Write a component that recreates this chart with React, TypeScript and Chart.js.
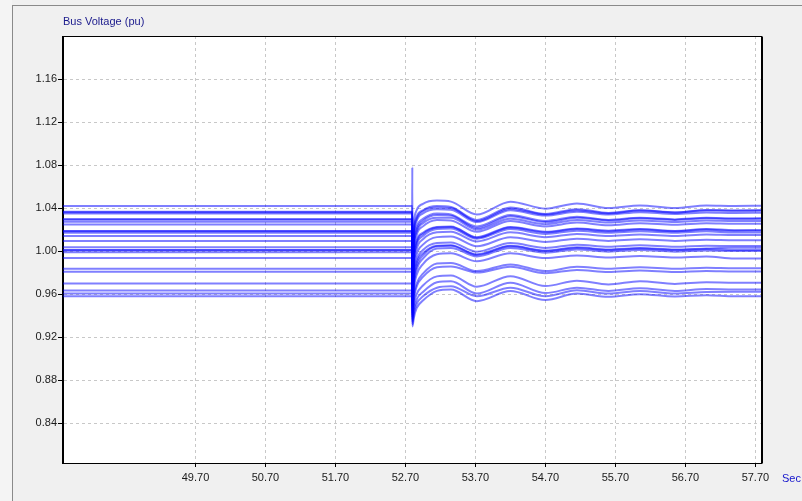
import { useEffect, useRef } from "react";
import { Chart, registerables } from "chart.js";

Chart.register(...registerables);

// Sample instants (s) of the simulated bus voltage record
const TIME = [47.78, 52.795, 52.798, 52.8, 52.82, 52.86, 52.95, 53.15, 53.35, 53.72, 54.2, 54.7, 55.15, 55.6, 56.05, 56.55, 57.0, 57.4, 57.78];

// Bus voltages (pu) at the instants above
const BUS_01 = [1.042, 1.042, 1.042, 1.0, 1.026, 1.038, 1.044, 1.047, 1.046, 1.034, 1.046, 1.0395, 1.0443, 1.04, 1.0425, 1.04, 1.0425, 1.042, 1.0422];
const BUS_02 = [1.0366, 1.0366, 1.0366, 0.995, 1.02, 1.032, 1.038, 1.042, 1.041, 1.029, 1.0405, 1.0345, 1.039, 1.0355, 1.038, 1.036, 1.0382, 1.0378, 1.038];
const BUS_03 = [1.0362, 1.0362, 1.0362, 0.99, 1.017, 1.03, 1.037, 1.0405, 1.04, 1.028, 1.0395, 1.034, 1.038, 1.035, 1.0377, 1.0358, 1.0378, 1.0375, 1.0377];
const BUS_04 = [1.035, 1.035, 1.035, 0.985, 1.014, 1.028, 1.035, 1.039, 1.0385, 1.027, 1.038, 1.033, 1.0365, 1.034, 1.0362, 1.0345, 1.036, 1.0355, 1.0357];
const BUS_05 = [1.0297, 1.0297, 1.0297, 0.98, 1.01, 1.023, 1.03, 1.035, 1.034, 1.023, 1.0335, 1.028, 1.032, 1.029, 1.031, 1.0295, 1.031, 1.0303, 1.0305];
const BUS_06 = [1.0293, 1.0293, 1.0293, 0.975, 1.006, 1.02, 1.028, 1.0335, 1.033, 1.0215, 1.0325, 1.027, 1.031, 1.0285, 1.0305, 1.029, 1.0305, 1.03, 1.0302];
const BUS_07 = [1.0273, 1.0273, 1.0273, 0.972, 1.004, 1.018, 1.026, 1.031, 1.031, 1.02, 1.03, 1.025, 1.029, 1.0265, 1.0285, 1.027, 1.0285, 1.028, 1.028];
const BUS_08 = [1.0248, 1.0248, 1.0248, 0.968, 1.0, 1.015, 1.023, 1.029, 1.0285, 1.018, 1.028, 1.023, 1.0265, 1.024, 1.026, 1.0245, 1.026, 1.0255, 1.0255];
const BUS_09 = [1.0188, 1.0188, 1.078, 0.965, 0.995, 1.01, 1.017, 1.0225, 1.023, 1.013, 1.0225, 1.018, 1.021, 1.019, 1.0205, 1.0188, 1.0205, 1.0195, 1.0195];
const BUS_10 = [1.0184, 1.0184, 1.0184, 0.962, 0.992, 1.008, 1.016, 1.022, 1.0225, 1.0125, 1.022, 1.0175, 1.0205, 1.0185, 1.02, 1.0185, 1.02, 1.019, 1.0192];
const BUS_11 = [1.0171, 1.0171, 1.0171, 0.958, 0.99, 1.006, 1.014, 1.0205, 1.021, 1.0115, 1.0205, 1.016, 1.019, 1.017, 1.0185, 1.017, 1.0185, 1.0172, 1.0172];
const BUS_12 = [1.014, 1.014, 1.014, 0.955, 0.986, 1.002, 1.011, 1.0175, 1.018, 1.009, 1.0175, 1.013, 1.016, 1.014, 1.0155, 1.014, 1.0155, 1.015, 1.015];
const BUS_13 = [1.0093, 1.0093, 1.0093, 0.952, 0.982, 0.997, 1.006, 1.013, 1.0135, 1.0045, 1.013, 1.0085, 1.0115, 1.0095, 1.011, 1.0095, 1.0105, 1.01, 1.01];
const BUS_14 = [1.0037, 1.0037, 1.0037, 0.95, 0.978, 0.992, 1.001, 1.0075, 1.008, 0.9995, 1.0075, 1.003, 1.006, 1.004, 1.0055, 1.004, 1.005, 1.0047, 1.0047];
const BUS_15 = [1.0011, 1.0011, 1.0011, 0.948, 0.974, 0.989, 0.998, 1.005, 1.0055, 0.997, 1.005, 1.0005, 1.0035, 1.0015, 1.003, 1.0015, 1.0025, 1.0032, 1.0032];
const BUS_16 = [1.0007, 1.0007, 1.0007, 0.946, 0.971, 0.986, 0.996, 1.0045, 1.005, 0.9965, 1.0045, 1.0, 1.003, 1.001, 1.0025, 1.001, 1.002, 1.001, 1.001];
const BUS_17 = [0.999, 0.999, 0.999, 0.944, 0.968, 0.983, 0.993, 1.0025, 1.003, 0.995, 1.003, 0.9985, 1.0015, 0.9995, 1.001, 0.9995, 1.0005, 1.0, 1.0];
const BUS_18 = [0.9935, 0.9935, 0.9935, 0.942, 0.964, 0.978, 0.988, 0.997, 0.998, 0.9905, 0.998, 0.9935, 0.996, 0.994, 0.9955, 0.994, 0.995, 0.9932, 0.9932];
const BUS_19 = [0.9836, 0.9836, 0.9836, 0.94, 0.958, 0.97, 0.979, 0.9885, 0.989, 0.9814, 0.9876, 0.9814, 0.9855, 0.9835, 0.985, 0.9835, 0.9845, 0.984, 0.984];
const BUS_20 = [0.9808, 0.9808, 0.9808, 0.938, 0.955, 0.967, 0.976, 0.985, 0.9857, 0.98, 0.9855, 0.9795, 0.9825, 0.9805, 0.982, 0.9805, 0.9815, 0.981, 0.981];
const BUS_21 = [0.97, 0.97, 0.97, 0.936, 0.95, 0.96, 0.968, 0.9765, 0.9774, 0.9669, 0.9767, 0.9675, 0.9725, 0.969, 0.972, 0.9695, 0.971, 0.9706, 0.9706];
const BUS_22 = [0.9634, 0.9634, 0.9634, 0.934, 0.945, 0.955, 0.962, 0.971, 0.972, 0.9606, 0.9706, 0.961, 0.966, 0.963, 0.9655, 0.963, 0.9648, 0.9644, 0.9644];
const BUS_23 = [0.9607, 0.9607, 0.9607, 0.932, 0.942, 0.951, 0.958, 0.966, 0.9674, 0.958, 0.966, 0.958, 0.9635, 0.9605, 0.963, 0.9605, 0.962, 0.9622, 0.9622];
const BUS_24 = [0.958, 0.958, 0.958, 0.93, 0.938, 0.947, 0.954, 0.963, 0.9643, 0.9535, 0.9628, 0.9545, 0.9606, 0.9575, 0.96, 0.9578, 0.959, 0.958, 0.958];

const BUS_SERIES = [
  BUS_01, BUS_02, BUS_03, BUS_04, BUS_05, BUS_06, BUS_07, BUS_08,
  BUS_09, BUS_10, BUS_11, BUS_12, BUS_13, BUS_14, BUS_15, BUS_16,
  BUS_17, BUS_18, BUS_19, BUS_20, BUS_21, BUS_22, BUS_23, BUS_24,
];

// Axis ticks
const X_TICKS = [49.7, 50.7, 51.7, 52.7, 53.7, 54.7, 55.7, 56.7, 57.7];
const Y_TICKS = [0.84, 0.88, 0.92, 0.96, 1.0, 1.04, 1.08, 1.12, 1.16];

const TITLE = "Bus Voltage (pu)";
const X_UNIT = "Sec";

const FONT = '"Liberation Sans", Arial, sans-serif';

// Panel background, frame lines, white plot area and the captions
const panelPlugin = {
  id: "panel",
  beforeDraw(chart: any) {
    const { ctx, width, height, chartArea: a } = chart;
    ctx.save();
    ctx.fillStyle = "#f0f0f0";
    ctx.fillRect(0, 0, width, height);
    ctx.fillStyle = "#f4f4f4";
    ctx.fillRect(0, 0, 12, height);
    ctx.strokeStyle = "#8a8a8a";
    ctx.lineWidth = 1;
    ctx.beginPath();
    ctx.moveTo(12.5, 5);
    ctx.lineTo(12.5, height);
    ctx.moveTo(12, 5.5);
    ctx.lineTo(width, 5.5);
    ctx.stroke();
    ctx.fillStyle = "#ffffff";
    ctx.fillRect(a.left, a.top, a.right - a.left, a.bottom - a.top);
    ctx.font = `11px ${FONT}`;
    ctx.textBaseline = "alphabetic";
    ctx.textAlign = "left";
    ctx.fillStyle = "#1a1a8c";
    ctx.fillText(TITLE, a.left, 25);
    ctx.fillStyle = "#1515cc";
    ctx.fillText(X_UNIT, a.right + 21, 482);
    ctx.restore();
  },
  afterDraw(chart: any) {
    const { ctx, chartArea: a } = chart;
    ctx.save();
    ctx.strokeStyle = "#000000";
    ctx.lineWidth = 1;
    const l = Math.round(a.left) - 0.5;
    const t = Math.round(a.top) + 0.5;
    const r = Math.round(a.right) + 0.5;
    const b = Math.round(a.bottom) + 0.5;
    ctx.strokeRect(l, t, r - l, b - t);
    ctx.beginPath();
    ctx.moveTo(r + 1, t);
    ctx.lineTo(r + 1, b);
    ctx.stroke();
    ctx.restore();
  },
};

export default function App() {
  const canvasRef = useRef<HTMLCanvasElement | null>(null);

  useEffect(() => {
    const canvas = canvasRef.current;
    if (!canvas) return;

    const datasets = BUS_SERIES.map((series, i) => ({
      label: `Bus ${i + 1}`,
      data: TIME.map((t, k) => ({ x: t, y: series[k] })),
      borderColor: "rgba(0, 0, 255, 0.5)",
      borderWidth: 2,
      pointRadius: 0,
      fill: false,
      cubicInterpolationMode: "monotone" as const,
    }));

    const chart = new Chart(canvas, {
      type: "line",
      data: { datasets },
      plugins: [panelPlugin],
      options: {
        animation: false,
        responsive: false,
        devicePixelRatio: 1,
        events: [],
        layout: { padding: { left: 0, top: 36, right: 41, bottom: 0 } },
        plugins: {
          legend: { display: false },
          tooltip: { enabled: false },
          title: { display: false },
        },
        scales: {
          x: {
            type: "linear",
            min: 47.807,
            max: 57.78,
            afterBuildTicks: (scale: any) => {
              scale.ticks = X_TICKS.map((v) => ({ value: v }));
            },
            afterFit: (scale: any) => {
              scale.height = 38;
            },
            ticks: {
              autoSkip: false,
              maxRotation: 0,
              padding: 4,
              color: "#1a1a1a",
              font: { family: FONT, size: 11 },
              callback: (v: any) => Number(v).toFixed(2),
            },
            grid: {
              color: "#c8c8c8",
              lineWidth: 1,
              tickLength: 4,
              tickColor: "#000000",
              tickBorderDash: [],
            },
            border: { color: "#000000", dash: [3, 3] },
          },
          y: {
            type: "linear",
            min: 0.803,
            max: 1.2,
            afterBuildTicks: (scale: any) => {
              scale.ticks = Y_TICKS.map((v) => ({ value: v }));
            },
            afterFit: (scale: any) => {
              scale.width = 63;
            },
            ticks: {
              padding: 1,
              color: "#1a1a1a",
              font: { family: FONT, size: 11 },
              callback: (v: any) => Number(v).toFixed(2),
            },
            grid: {
              color: "#c8c8c8",
              lineWidth: 1,
              tickLength: 5,
              tickColor: "#000000",
              tickBorderDash: [],
            },
            border: { color: "#000000", dash: [3, 3] },
          },
        },
      },
    });

    return () => chart.destroy();
  }, []);

  return (
    <div style={{ position: "fixed", left: 0, top: 0, width: 802, height: 501, background: "#f0f0f0" }}>
      <canvas ref={canvasRef} width={802} height={501} style={{ display: "block" }} />
    </div>
  );
}
